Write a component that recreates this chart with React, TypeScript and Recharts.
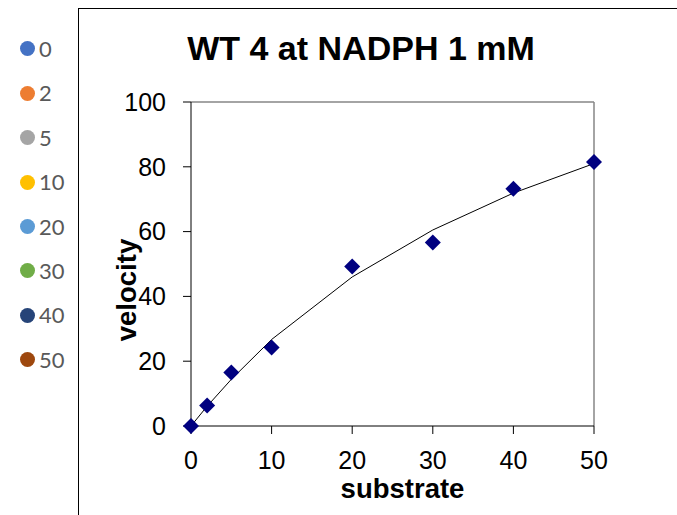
import React from 'react';
import { ComposedChart, Line, Scatter, XAxis, YAxis, ReferenceLine, Label } from 'recharts';

const substrate = [0, 2, 5, 10, 20, 30, 40, 50];
const velocity = [0, 6.3, 16.5, 24.2, 49.2, 56.6, 73.2, 81.5];
const fitted = [0, 6.1, 14.4, 26.7, 46.0, 60.5, 71.9, 81.0];
const xTicks = [0, 10, 20, 30, 40, 50];
const yTicks = [0, 20, 40, 60, 80, 100];
const legendLabels = ['0', '2', '5', '10', '20', '30', '40', '50'];
const legendColors = ['#4472C4', '#ED7D31', '#A5A5A5', '#FFC000', '#5B9BD5', '#70AD47', '#264478', '#9E480E'];
const title = 'WT 4 at NADPH 1 mM';
const xTitle = 'substrate';
const yTitle = 'velocity';

const data = substrate.map((s, i) => ({ s, v: velocity[i], fit: fitted[i] }));

const FONT = '"Liberation Sans", Arial, sans-serif';

const Diamond = (props: any) => {
  const { cx, cy } = props;
  if (cx == null || cy == null) return null;
  const r = 8;
  return (
    <polygon
      points={`${cx},${cy - r} ${cx + r},${cy} ${cx},${cy + r} ${cx - r},${cy}`}
      fill="#000080"
    />
  );
};

const tickStyle = { fontSize: 25, fill: '#000', fontFamily: FONT };

export default function App() {
  return (
    <div
      style={{
        position: 'absolute',
        left: 0,
        top: 0,
        width: 677,
        height: 515,
        background: '#fff',
        overflow: 'hidden',
        fontFamily: FONT,
      }}
    >
      <div style={{ position: 'absolute', left: 78, top: 8, width: 1, height: 507, background: '#000' }} />
      <div style={{ position: 'absolute', left: 78, top: 8, width: 599, height: 1, background: '#000' }} />

      <div style={{ position: 'absolute', left: 0, top: 26.8 }}>
        {legendLabels.map((lab, i) => (
          <div key={lab} style={{ display: 'flex', alignItems: 'center', height: 44.4 }}>
            <div
              style={{
                marginLeft: 19.5,
                width: 15,
                height: 15,
                borderRadius: '50%',
                background: legendColors[i],
              }}
            />
            <span
              style={{
                marginLeft: 4.5,
                fontFamily: 'Lato, sans-serif',
                fontSize: 22,
                color: '#595959',
                lineHeight: '22px',
              }}
            >
              {lab}
            </span>
          </div>
        ))}
      </div>

      <div
        style={{
          position: 'absolute',
          left: 161,
          top: 30.5,
          width: 400,
          textAlign: 'center',
          fontSize: 34,
          lineHeight: '34px',
          fontWeight: 'bold',
          color: '#000',
          whiteSpace: 'nowrap',
        }}
      >
        {title}
      </div>

      <div style={{ position: 'absolute', left: 0, top: 0 }}>
        <ComposedChart
          width={677}
          height={515}
          data={data}
          margin={{ top: 102, right: 83, bottom: 14, left: 131 }}
        >
          <XAxis
            dataKey="s"
            type="number"
            domain={[0, 50]}
            ticks={xTicks}
            interval={0}
            tickSize={8}
            tickMargin={17}
            height={75}
            axisLine={{ stroke: '#000' }}
            tickLine={{ stroke: '#000' }}
            tick={tickStyle}
          >
            <Label
              content={(p: any) => {
                const vb = p.viewBox || { x: 191, y: 426, width: 403, height: 75 };
                return (
                  <text
                    x={vb.x + vb.width / 2 + 10}
                    y={498}
                    textAnchor="middle"
                    fontFamily={FONT}
                    fontWeight="bold"
                    fontSize={27.5}
                    fill="#000"
                  >
                    {xTitle}
                  </text>
                );
              }}
            />
          </XAxis>
          <YAxis
            type="number"
            domain={[0, 100]}
            ticks={yTicks}
            interval={0}
            tickSize={8}
            tickMargin={17}
            width={60}
            axisLine={{ stroke: '#000' }}
            tickLine={{ stroke: '#000' }}
            tick={tickStyle}
          >
            <Label
              content={(p: any) => {
                const vb = p.viewBox || { x: 131, y: 102, width: 60, height: 324 };
                const cx = 136;
                const cy = vb.y + vb.height / 2 + 26;
                return (
                  <text
                    x={cx}
                    y={cy}
                    transform={`rotate(-90, ${cx}, ${cy})`}
                    textAnchor="middle"
                    fontFamily={FONT}
                    fontWeight="bold"
                    fontSize={27.5}
                    fill="#000"
                  >
                    {yTitle}
                  </text>
                );
              }}
            />
          </YAxis>
          <ReferenceLine y={100} stroke="#868686" strokeWidth={1.5} />
          <ReferenceLine x={50} stroke="#868686" strokeWidth={1.5} />
          <Line
            dataKey="fit"
            type="linear"
            stroke="#000"
            strokeWidth={1}
            dot={false}
            activeDot={false}
            isAnimationActive={false}
          />
          <Scatter
            dataKey="v"
            fill="#000080"
            shape={(p: any) => <Diamond {...p} />}
            isAnimationActive={false}
          />
        </ComposedChart>
      </div>
    </div>
  );
}
